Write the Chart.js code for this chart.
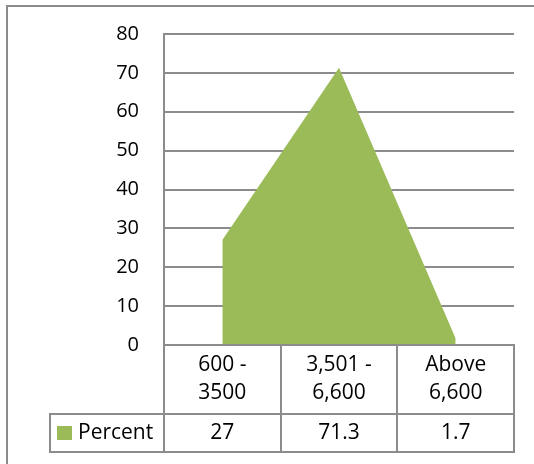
<!DOCTYPE html>
<html>
<head>
<meta charset="utf-8">
<title>Percent by range</title>
<script src="https://cdn.jsdelivr.net/npm/chart.js@4.4.1/dist/chart.umd.min.js"></script>
<style>
  html, body { margin: 0; padding: 0; background: #fff; overflow: hidden; }
  #wrap { width: 534px; height: 464px; position: relative; }
</style>
</head>
<body>
<div id="wrap"><canvas id="chart" width="534" height="464"></canvas></div>
<script>
// Chart data
const categories = [['600 -', '3500'], ['3,501 -', '6,600'], ['Above', '6,600']];
const seriesName = 'Percent';
const percent = [27, 71.3, 1.7];
const yTicks = [0, 10, 20, 30, 40, 50, 60, 70, 80];

// Look
const FAMILY = '"Open Sans", "Liberation Sans", sans-serif';
const TABLE_FONT = '21px ' + FAMILY;
const GREEN = '#9BBB59';
const LINE = '#8c8c8c';

// Outer frame around the whole chart object
const frame = {
  id: 'frame',
  beforeDraw(chart){
    const ctx = chart.ctx;
    ctx.save();
    ctx.strokeStyle = LINE;
    ctx.lineWidth = 2;
    ctx.strokeRect(7, 6, 1000, 1000);
    ctx.restore();
  }
};

// Data table under the plot: category row + series row with legend key
const dataTable = {
  id: 'dataTable',
  afterDraw(chart){
    const {ctx, chartArea: a, scales: {x}} = chart;
    const half = (a.right - a.left) / categories.length / 2;
    const top = a.bottom, mid = a.bottom + 69, bot = a.bottom + 107;
    const legendLeft = 50;
    const px = v => Math.round(v);

    ctx.save();
    ctx.strokeStyle = LINE;
    ctx.lineWidth = 2;
    ctx.lineCap = 'square';
    ctx.beginPath();
    // horizontals
    ctx.moveTo(a.left, px(top)); ctx.lineTo(a.right, px(top));
    ctx.moveTo(legendLeft, px(mid)); ctx.lineTo(a.right, px(mid));
    ctx.moveTo(legendLeft, px(bot)); ctx.lineTo(a.right, px(bot));
    // verticals
    ctx.moveTo(px(legendLeft), mid); ctx.lineTo(px(legendLeft), bot);
    categories.forEach((_, i) => {
      const cx = x.getPixelForTick(i);
      if(i === 0){ ctx.moveTo(px(cx - half), top); ctx.lineTo(px(cx - half), bot); }
      ctx.moveTo(px(cx + half), top); ctx.lineTo(px(cx + half), bot);
    });
    ctx.stroke();

    ctx.fillStyle = '#000';
    ctx.font = TABLE_FONT;
    ctx.textAlign = 'center';
    ctx.textBaseline = 'middle';
    categories.forEach((lines, i) => {
      const cx = x.getPixelForTick(i);
      const lh = 28;
      const y0 = (top + mid) / 2 - (lines.length - 1) * lh / 2;
      lines.forEach((t, j) => ctx.fillText(t, cx, y0 + j * lh));
      ctx.fillText(String(percent[i]), cx, (mid + bot) / 2);
    });

    // legend key + series name
    const ky = (mid + bot) / 2;
    ctx.fillStyle = GREEN;
    ctx.fillRect(57, ky - 7, 15, 14);
    ctx.fillStyle = '#000';
    ctx.textAlign = 'left';
    ctx.fillText(seriesName, 78, ky);
    ctx.restore();
  }
};

function init(){
  new Chart(document.getElementById('chart').getContext('2d'), {
    type: 'line',
    data: {
      labels: categories,
      datasets: [{
        label: seriesName,
        data: percent,
        fill: 'origin',
        backgroundColor: GREEN,
        borderColor: GREEN,
        borderWidth: 0,
        pointRadius: 0,
        tension: 0,
      }]
    },
    options: {
      responsive: false,
      devicePixelRatio: 1,
      animation: false,
      layout: {padding: {left: 0, right: 20, top: 34, bottom: 119}},
      plugins: {legend: {display: false}, tooltip: {enabled: false}},
      scales: {
        x: {type: 'category', offset: true, display: false},
        y: {
          min: yTicks[0],
          max: yTicks[yTicks.length - 1],
          afterFit: s => { s.width = 164; },
          ticks: {stepSize: yTicks[1] - yTicks[0], padding: 3, color: '#000', font: {family: FAMILY, size: 20}},
          // invisible tick marks push the labels away from the axis
          grid: {color: LINE, lineWidth: 2, drawTicks: true, tickLength: 22, tickColor: 'rgba(0,0,0,0)'},
          border: {display: true, color: LINE, width: 2},
        }
      }
    },
    plugins: [frame, dataTable]
  });
}

document.addEventListener('DOMContentLoaded', () => {
  document.fonts.load(TABLE_FONT).then(init, init);
});
</script>
</body>
</html>
